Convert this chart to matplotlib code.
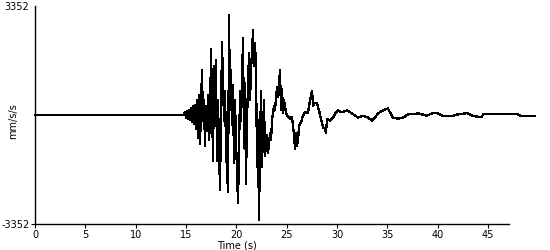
import matplotlib
matplotlib.use("Agg")
import matplotlib.pyplot as plt

# Time (s) and acceleration (mm/s/s)
time_s = [0.00, 14.70, 14.90, 14.99, 15.09, 15.19, 15.29, 15.39, 15.49, 15.59,
          15.69, 15.79, 15.89, 15.99, 16.09, 16.19, 16.29, 16.39, 16.58, 16.68,
          16.78, 16.88, 16.98, 17.08, 17.18, 17.28, 17.38, 17.48, 17.68, 17.78,
          17.87, 17.97, 18.07, 18.17, 18.37, 18.57, 18.77, 18.87, 18.97, 19.17,
          19.27, 19.36, 19.46, 19.56, 19.66, 19.76, 19.86, 19.96, 20.16, 20.26,
          20.36, 20.46, 20.66, 20.75, 20.85, 20.95, 21.05, 21.25, 21.35, 21.45,
          21.65, 21.75, 21.85, 21.95, 22.05, 22.14, 22.24, 22.34, 22.44, 22.54,
          22.64, 22.74, 22.84, 23.04, 23.14, 23.34, 23.44, 23.54, 23.73, 23.83,
          24.03, 24.13, 24.33, 24.43, 24.53, 24.63, 24.73, 24.93, 25.12, 25.32,
          25.52, 25.72, 25.82, 25.92, 26.02, 26.12, 26.22, 26.42, 26.61, 26.81,
          27.11, 27.31, 27.51, 27.61, 27.81, 28.00, 28.20, 28.40, 28.60, 28.80,
          28.90, 29.00, 29.30, 29.59, 29.89, 30.09, 30.49, 30.98, 31.48, 32.08,
          32.57, 33.07, 33.47, 33.76, 34.06, 34.56, 35.05, 35.25, 35.55, 36.05,
          36.54, 37.04, 37.54, 38.04, 38.43, 38.93, 39.42, 40.02, 40.42, 40.91,
          41.51, 42.01, 42.70, 43.00, 43.40, 43.89, 44.39, 44.49, 47.96, 48.16,
          49.65]
accel = [0, 0, 80, -80, 110, -110, 140, -140, 200, -200,
         260, -290, 320, -420, 450, -720, 600, -880, 1370, -170,
         450, -940, 290, -480, 600, -780, -170, 2040, -1400, 1520,
         140, 1680, -1400, 450, -2320, 2230, -170, 750, -1090, -2380,
         3060, 140, 1370, -320, 910, -1490, 450, -780, -2720, -1090,
         750, -170, 2380, -1000, 970, -2110, -170, 1890, 450, 1370,
         2600, 1520, 2200, 1370, -1610, -170, -3240, -1090, 750, -1610,
         -480, 450, -1250, -630, -1180, -570, -780, -170, 290, 140,
         850, 540, 1370, 140, 810, 50, 450, 50, -50, -110,
         -50, -630, -1030, -570, -940, -780, -320, -230, -20, 80,
         80, 450, 750, 290, 380, 350, 140, -110, -380, -420,
         -540, -110, -170, -80, 80, 140, 80, 140, 50, -80,
         -20, -80, -170, -80, 50, 140, 200, 80, -80, -110,
         -80, 20, 20, 50, 20, -20, 50, 50, -20, -20,
         -20, 20, 50, 50, -20, -50, -50, 20, 20, -20,
         -20]

y_limit = 3352
x_ticks = [0, 5, 10, 15, 20, 25, 30, 35, 40, 45]

fig = plt.figure(figsize=(5.5, 2.5), dpi=100)
ax = fig.add_axes([35/550, 1 - 224/250, 474/550, 218/250])
ax.plot(time_s, accel, color="black", lw=0.9, clip_on=False, antialiased=False)
ax.set_xlim(0, 47.07)
ax.set_ylim(-y_limit, y_limit)
for s in ["top", "right"]:
    ax.spines[s].set_visible(False)
for s in ["left", "bottom"]:
    ax.spines[s].set_linewidth(1.0)
ax.set_xticks(x_ticks)
ax.set_xticklabels([str(t) for t in x_ticks], fontsize=7)
ax.set_yticks([-y_limit, y_limit])
ax.set_yticklabels([str(-y_limit), str(y_limit)], fontsize=7)
ax.tick_params(axis="both", length=3, width=0.8, pad=1, colors="black")
ax.yaxis.get_major_ticks()[1].tick1line.set_visible(False)
ax.set_xlabel("Time (s)", fontsize=7, labelpad=0)
ax.xaxis.set_label_coords(0.426, -0.075)
ax.set_ylabel("mm/s/s", fontsize=7)
ax.yaxis.set_label_coords(-0.035, 0.47)
fig.savefig("out.png", dpi=100)
